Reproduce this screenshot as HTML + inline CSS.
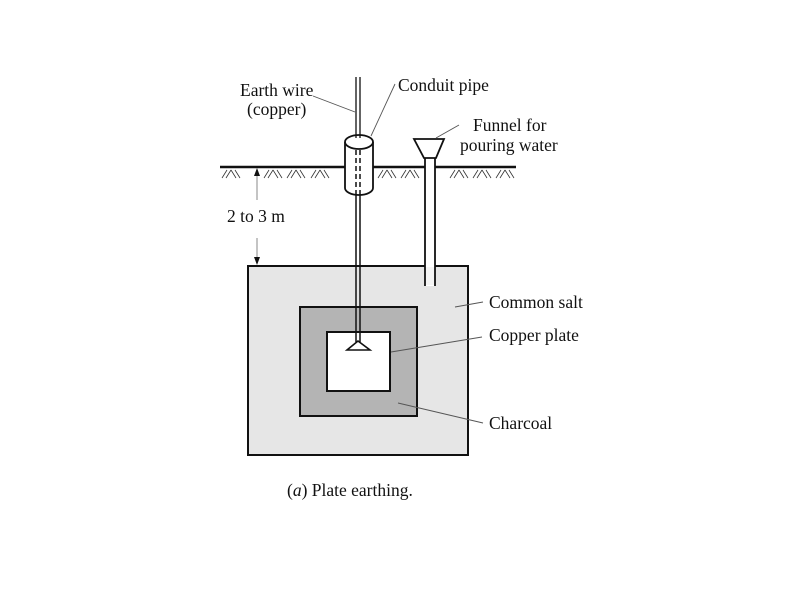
<!DOCTYPE html>
<html><head><style>
html,body{margin:0;padding:0;background:#fff;}
svg text{font-family:"Liberation Serif",serif;font-size:17.5px;fill:#111;}
</style></head><body>
<svg width="800" height="600" viewBox="0 0 800 600" xmlns="http://www.w3.org/2000/svg">
<defs>
<g id="h" stroke="#333" stroke-width="0.8" fill="none">
<path d="M0 178 L5 170 M4 178 L9 170 M9 170 L14 178 M13 170 L18 178"/>
</g>
</defs>
<rect x="248" y="266" width="220" height="189" fill="#e6e6e6" stroke="#111" stroke-width="2"/>
<rect x="300" y="307" width="117" height="109" fill="#b4b4b4" stroke="#111" stroke-width="2"/>
<rect x="327" y="332" width="63" height="59" fill="#fff" stroke="#111" stroke-width="2"/>
<line x1="220" y1="167" x2="345" y2="167" stroke="#111" stroke-width="2.5"/>
<line x1="373" y1="167" x2="516" y2="167" stroke="#111" stroke-width="2.5"/>
<use href="#h" x="222"/><use href="#h" x="264"/><use href="#h" x="287"/><use href="#h" x="311"/>
<use href="#h" x="378"/><use href="#h" x="401"/><use href="#h" x="450"/><use href="#h" x="473"/><use href="#h" x="496"/>
<rect x="425" y="158" width="10" height="128" fill="#fff" stroke="none"/>
<rect x="426" y="267" width="8" height="18" fill="#f4f4f4"/>
<line x1="425" y1="158" x2="425" y2="286" stroke="#111" stroke-width="1.8"/>
<line x1="435" y1="158" x2="435" y2="286" stroke="#111" stroke-width="1.8"/>
<polygon points="414,139 444,139 436,158 424,158" fill="#fff" stroke="#111" stroke-width="1.8"/>
<path d="M345 142 L345 188 A14 7 0 0 0 373 188 L373 142" fill="#fff" stroke="#111" stroke-width="1.8"/>
<ellipse cx="359" cy="142" rx="14" ry="7" fill="#fff" stroke="#111" stroke-width="1.8"/>
<line x1="356" y1="77" x2="356" y2="138" stroke="#111" stroke-width="1.3"/>
<line x1="360" y1="77" x2="360" y2="138" stroke="#111" stroke-width="1.3"/>
<line x1="356" y1="150" x2="356" y2="195" stroke="#111" stroke-width="1.5" stroke-dasharray="5,3"/>
<line x1="360" y1="150" x2="360" y2="195" stroke="#111" stroke-width="1.5" stroke-dasharray="5,3"/>
<line x1="356" y1="195" x2="356" y2="342" stroke="#111" stroke-width="1.5"/>
<line x1="360" y1="195" x2="360" y2="342" stroke="#111" stroke-width="1.5"/>
<polygon points="358,341 347,350 370,350" fill="#fff" stroke="#111" stroke-width="1.6"/>
<line x1="257" y1="175" x2="257" y2="200" stroke="#888" stroke-width="1"/>
<polygon points="257,168 254,176 260,176" fill="#111"/>
<line x1="257" y1="238" x2="257" y2="258" stroke="#888" stroke-width="1"/>
<polygon points="257,265 254,257 260,257" fill="#111"/>
<text x="227" y="222">2 to 3 m</text>
<g stroke="#555" stroke-width="0.9">
<line x1="313" y1="96" x2="355" y2="112"/>
<line x1="395" y1="84" x2="371" y2="136"/>
<line x1="459" y1="125" x2="436" y2="138"/>
<line x1="455" y1="307" x2="483" y2="302"/>
<line x1="391" y1="352" x2="482" y2="337"/>
<line x1="398" y1="403" x2="483" y2="423"/>
</g>
<text x="240" y="96">Earth wire</text>
<text x="247" y="115">(copper)</text>
<text x="398" y="91">Conduit pipe</text>
<text x="473" y="131">Funnel for</text>
<text x="460" y="151">pouring water</text>
<text x="489" y="308">Common salt</text>
<text x="489" y="341">Copper plate</text>
<text x="489" y="429">Charcoal</text>
<text x="287" y="496">(<tspan font-style="italic">a</tspan>) Plate earthing.</text>
</svg>
</body></html>
